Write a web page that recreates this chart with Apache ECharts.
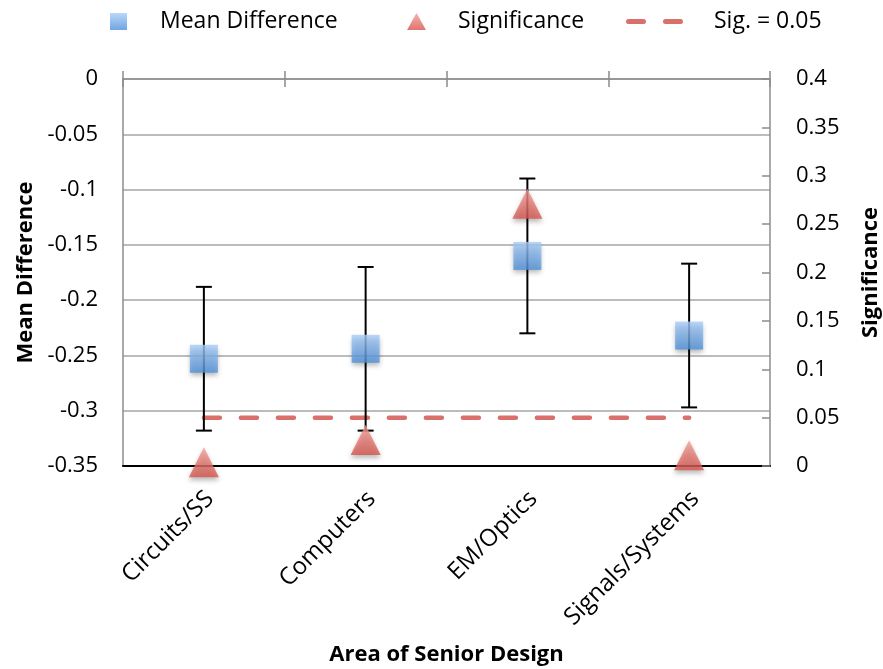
<!DOCTYPE html>
<html>
<head>
<meta charset="utf-8">
<script src="https://cdn.jsdelivr.net/npm/echarts@6/dist/echarts.min.js"></script>
<style>
  html, body { margin: 0; padding: 0; background: #fff; }
  #chart { width: 883px; height: 669px; }
</style>
</head>
<body>
<div id="chart"></div>
<script>
// ---- data ----
const categories = ['Circuits/SS', 'Computers', 'EM/Optics', 'Signals/Systems'];
const meanDifference = [-0.253, -0.244, -0.160, -0.232];
const errorLow = [-0.318, -0.318, -0.230, -0.297];
const errorHigh = [-0.188, -0.170, -0.090, -0.167];
const significance = [0.004, 0.027, 0.271, 0.011];
const sigThreshold = [0.05, 0.05, 0.05, 0.05];
const leftTicks = [-0.35, -0.3, -0.25, -0.2, -0.15, -0.1, -0.05, 0];
const rightTicks = [0, 0.05, 0.1, 0.15, 0.2, 0.25, 0.3, 0.35, 0.4];

const FONT = 'Open Sans';
const chart = echarts.init(document.getElementById('chart'));

const squareColor = new echarts.graphic.LinearGradient(0, 0, 0, 1, [
  { offset: 0, color: '#a9cdf8' },
  { offset: 1, color: '#4d90d9' }
]);
const triColor = new echarts.graphic.LinearGradient(0, 0, 0, 1, [
  { offset: 0, color: '#f4a099' },
  { offset: 1, color: '#d6534c' }
]);
const dashColor = '#d9706b';
const dashIcon = 'path://M2.5,0 H17.5 A2.5,2.5 0 0 1 17.5,5 H2.5 A2.5,2.5 0 0 1 2.5,0 Z M39.5,0 H54.5 A2.5,2.5 0 0 1 54.5,5 H39.5 A2.5,2.5 0 0 1 39.5,0 Z';

const legendText = { fontFamily: FONT, fontSize: 23, color: '#000' };
const titleText = { fontFamily: FONT, fontSize: 22, fontWeight: 'bold', color: '#000' };

chart.setOption({
  animation: false,
  backgroundColor: '#fff',
  textStyle: { fontFamily: FONT },
  grid: [
    { left: 123, right: 113, top: 79, bottom: 203, containLabel: false, outerBoundsMode: 'none' },
    { left: 129, right: 107, top: 79, bottom: 203, containLabel: false, outerBoundsMode: 'none' }
  ],
  legend: [
    { left: 110, top: 10, padding: 0, itemWidth: 17, itemHeight: 17, icon: 'rect',
      data: ['Mean Difference'], textStyle: Object.assign({ padding: [0, 0, 0, 28] }, legendText) },
    { left: 407, top: 10, padding: 0, itemWidth: 19, itemHeight: 17, icon: 'triangle',
      data: ['Significance'], textStyle: Object.assign({ padding: [0, 0, 0, 27] }, legendText) },
    { left: 626, top: 10, padding: 0, itemWidth: 57, itemHeight: 5,
      data: [{ name: 'Sig. = 0.05', icon: dashIcon }],
      itemStyle: { color: dashColor },
      textStyle: Object.assign({ padding: [0, 0, 0, 26] }, legendText) }
  ],
  xAxis: [
    {
      type: 'category', data: categories, position: 'bottom', gridIndex: 0,
      axisLine: { show: true, onZero: false, lineStyle: { color: '#000', width: 2 } },
      axisTick: { show: false },
      axisLabel: { show: false },
      name: 'Area of Senior Design', nameLocation: 'middle', nameGap: 178,
      nameTextStyle: titleText,
      splitLine: { show: false }
    },
    {
      type: 'category', data: categories, position: 'top', gridIndex: 0,
      axisLine: { show: true, onZero: false, lineStyle: { color: '#8c8c8c', width: 1.5 } },
      axisTick: { show: true, length: 8, lineStyle: { color: '#8c8c8c', width: 1.5 } },
      axisLabel: { show: false }, splitLine: { show: false }
    },
    {
      type: 'category', data: categories, position: 'top', gridIndex: 0,
      axisLine: { show: false, onZero: false },
      axisTick: { show: true, inside: true, length: 8, lineStyle: { color: '#8c8c8c', width: 1.5 } },
      axisLabel: { show: false }, splitLine: { show: false }
    },
    {
      // carries the rotated category labels
      type: 'category', data: categories, position: 'bottom', gridIndex: 1,
      axisLine: { show: false, onZero: false },
      axisTick: { show: false },
      axisLabel: { rotate: 45, margin: 29, fontFamily: FONT, fontSize: 24, color: '#000' },
      splitLine: { show: false }
    }
  ],
  yAxis: [
    {
      type: 'value', position: 'left', gridIndex: 0,
      min: leftTicks[0], max: leftTicks[leftTicks.length - 1], interval: 0.05,
      axisLine: { show: true, lineStyle: { color: '#8c8c8c', width: 1.5 } },
      axisTick: { show: false },
      axisLabel: { margin: 25, fontFamily: FONT, fontSize: 22, color: '#000' },
      splitLine: { show: true, lineStyle: { color: '#a6a6a6', width: 1.5 } },
      name: 'Mean Difference', nameLocation: 'middle', nameRotate: 90, nameGap: 86,
      nameTextStyle: titleText
    },
    {
      type: 'value', position: 'right', gridIndex: 0,
      min: rightTicks[0], max: rightTicks[rightTicks.length - 1], interval: 0.05,
      axisLine: { show: true, lineStyle: { color: '#8c8c8c', width: 1.5 } },
      axisTick: { show: true, inside: true, length: 8, lineStyle: { color: '#8c8c8c', width: 1.5 } },
      axisLabel: { margin: 26, fontFamily: FONT, fontSize: 22, color: '#000' },
      splitLine: { show: false },
      name: 'Significance', nameLocation: 'middle', nameRotate: 90, nameGap: 90,
      nameTextStyle: titleText
    },
    {
      type: 'value', gridIndex: 1, show: false,
      min: leftTicks[0], max: leftTicks[leftTicks.length - 1]
    }
  ],
  series: [
    {
      name: 'Sig. = 0.05', type: 'line', xAxisIndex: 0, yAxisIndex: 1,
      data: sigThreshold, symbol: 'none', z: 2,
      itemStyle: { color: dashColor },
      lineStyle: { color: dashColor, width: 4.5, type: [16, 21], cap: 'round' }
    },
    {
      name: 'errorbars', type: 'custom', xAxisIndex: 0, yAxisIndex: 0, z: 3,
      data: categories.map((c, i) => [i, errorLow[i], errorHigh[i]]),
      encode: { x: 0, y: [1, 2] },
      renderItem: function (params, api) {
        const lo = api.coord([api.value(0), api.value(1)]);
        const hi = api.coord([api.value(0), api.value(2)]);
        const hw = 8;
        const st = { stroke: '#000', lineWidth: 2 };
        return {
          type: 'group',
          children: [
            { type: 'line', shape: { x1: lo[0], y1: lo[1], x2: hi[0], y2: hi[1] }, style: st },
            { type: 'line', shape: { x1: lo[0] - hw, y1: lo[1], x2: lo[0] + hw, y2: lo[1] }, style: st },
            { type: 'line', shape: { x1: hi[0] - hw, y1: hi[1], x2: hi[0] + hw, y2: hi[1] }, style: st }
          ]
        };
      }
    },
    {
      name: 'Mean Difference', type: 'scatter', xAxisIndex: 0, yAxisIndex: 0, z: 4,
      data: meanDifference, symbol: 'rect', symbolSize: 28, clip: false,
      itemStyle: { color: squareColor, shadowBlur: 5, shadowOffsetY: 3, shadowColor: 'rgba(0,0,0,0.35)' }
    },
    {
      name: 'Significance', type: 'scatter', xAxisIndex: 0, yAxisIndex: 1, z: 5,
      data: significance, symbol: 'triangle', symbolSize: 30, clip: false,
      itemStyle: { color: triColor, shadowBlur: 5, shadowOffsetY: 3, shadowColor: 'rgba(0,0,0,0.35)' }
    }
  ]
});
</script>
</body>
</html>
